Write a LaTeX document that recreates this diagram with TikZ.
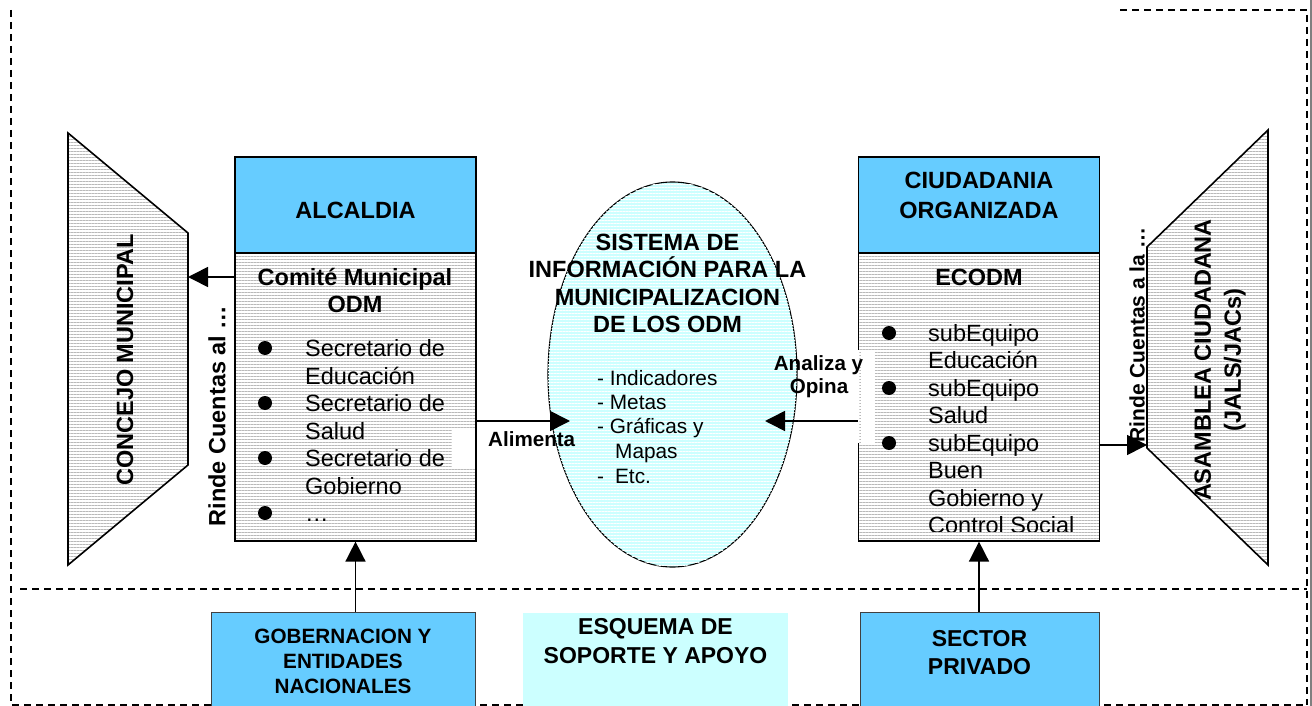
\documentclass[tikz,border=0pt]{standalone}
\usepackage{fontspec}
\setmainfont{Liberation Sans}
\usetikzlibrary{arrows.meta,patterns.meta,shapes.geometric}
\definecolor{hdrblue}{HTML}{66CCFF}
\definecolor{lcyan}{HTML}{CCFFFF}
\newcommand\fsz[2]{\fontsize{#1}{#2}\selectfont}
\begin{document}
\begin{tikzpicture}[x=1pt,y=-1pt,
  hatch/.style={pattern={Lines[angle=0,distance=3pt,line width=0.9pt]},pattern color=gray!55},
  bigbox/.style={draw=black,line width=1.2pt,hatch,rectangle,minimum width=241pt,minimum height=384pt,inner sep=0pt},
  hdr/.style={draw=black,line width=1.2pt,fill=hdrblue,rectangle,minimum width=241pt,minimum height=96pt,inner sep=0pt},
  lowbox/.style={draw=black!75,line width=1pt,fill=hdrblue,rectangle,minimum height=110pt,inner sep=0pt},
  bt/.style={font=\fsz{23.5}{27.5}\bfseries,inner sep=0pt},
  rt/.style={font=\fsz{23.5}{27.5},inner sep=0pt,anchor=base west},
  lt/.style={font=\fsz{20.8}{24.5},inner sep=0pt,anchor=base west},
  lab/.style={font=\fsz{20.6}{23}\bfseries,inner sep=0pt},
  lowt/.style={font=\fsz{20.7}{25}\bfseries,inner sep=0pt,anchor=base},
  bul/.style={circle,fill=black,minimum size=14pt,inner sep=0pt},
  arr/.style={line width=1.6pt,-{Triangle[length=20pt,width=20pt]}},
  frm/.style={line width=1.5pt,dash pattern=on 7pt off 5pt}]
\useasboundingbox (0,0) rectangle (1312,706);
\clip (0,0) rectangle (1312,706);

% frame
\draw[frm] (11,10) -- (11,705) -- (1307,705);
\draw[frm,line width=2.2pt] (1120,10) -- (1307,10) -- (1307,705);
\draw[gray,line width=2pt] (1311,0) -- (1311,706);
\draw[frm] (20,589) -- (1307,589);

% trapezoids
\draw[hatch,line width=1.6pt] (68,133) -- (188,233) -- (188,465) -- (68,565) -- cycle;
\coordinate (cjR) at (188,277);
\draw[hatch,line width=1.6pt] (1268,130) -- (1147,247) -- (1147,448) -- (1268,565) -- cycle;
\coordinate (asL) at (1147,445);

% main boxes
\node[bigbox] (alc) at (355.5,349) {};
\node[hdr] (alch) at (355.5,205) {};
\node[bigbox] (ciu) at (979,349) {};
\node[hdr] (ciuh) at (979,205) {};

% white label backgrounds
\fill[white] (452,428) rectangle (475.3,468);
\fill[white] (476.7,428) rectangle (560,468);
\fill[white] (770,350) rectangle (859.3,443);
\fill[white] (860.7,350) rectangle (875,443);

% ellipse
\node[draw=black,line width=1.1pt,ellipse,minimum width=249pt,minimum height=385pt,inner sep=0pt,
  fill=lcyan,postaction={pattern={Lines[angle=0,distance=3pt,line width=0.8pt]},pattern color=white}] (sis) at (672.5,374.5) {};

% bottom boxes
\node[lowbox,minimum width=264pt] (gob) at (343,667) {};
\node[fill=lcyan,rectangle,minimum width=265pt,minimum height=110pt,inner sep=0pt] (esq) at (655.5,668) {};
\node[lowbox,minimum width=239pt] (sec) at (979.5,667) {};

% connectors
\coordinate (alimTip) at (570,421);
\coordinate (analTip) at (765,421);
\draw[arr] (alc.west |- cjR) -- (cjR);
\draw[arr] (alc.east |- alimTip) -- (alimTip);
\draw[arr] (ciu.west |- analTip) -- (analTip);
\draw[arr] (ciu.east |- asL) -- (asL);
\draw[arr] (alc.south |- gob.north) -- (alc.south);
\draw[arr] (ciu.south |- sec.north) -- (ciu.south);

% Alcaldia text
\node[bt,anchor=base] (alcT) at (355.5,218) {ALCALDIA};
\node[bt,anchor=base] (alcS1) at (355,285) {Comité Municipal};
\node[bt,anchor=base] (alcS2) at (355,312) {ODM};
\node[bul] (ab1) at (265,348) {};
\node[bul] (ab2) at (265,403) {};
\node[bul] (ab3) at (265,458) {};
\node[bul] (ab4) at (265,513) {};
\node[rt] (al1) at (305,356.5) {Secretario de};
\node[rt] (al2) at (305,384) {Educación};
\node[rt] (al3) at (305,411.5) {Secretario de};
\node[rt] (al4) at (305,439) {Salud};
\node[rt] (al5) at (305,466.5) {Secretario de};
\node[rt] (al6) at (305,494) {Gobierno};
\node[rt] (al7) at (305,521.5) {…};

% Ciudadania text
\node[bt,anchor=base] (ciuT1) at (979,189) {CIUDADANIA};
\node[bt,anchor=base] (ciuT2) at (979,218) {ORGANIZADA};
\node[bt,anchor=base] (ciuS) at (979,285) {ECODM};
\node[bul] (cb1) at (889,333) {};
\node[bul] (cb2) at (889,388) {};
\node[bul] (cb3) at (889,443) {};
\node[rt] (cl1) at (928,341) {subEquipo};
\node[rt] (cl2) at (928,368.5) {Educación};
\node[rt] (cl3) at (928,396) {subEquipo};
\node[rt] (cl4) at (928,423.5) {Salud};
\node[rt] (cl5) at (928,451) {subEquipo};
\node[rt] (cl6) at (928,478.5) {Buen};
\node[rt] (cl7) at (928,506) {Gobierno y};
\begin{scope}
\clip (900,510) rectangle (1098,531);
\node[rt] (cl8) at (928,533.5) {Control Social};
\end{scope}

% Ellipse text
\node[bt,anchor=base] (s1) at (667.5,250.7) {SISTEMA DE};
\node[bt,anchor=base] (s2) at (667.5,277.7) {INFORMACIÓN PARA LA};
\node[bt,anchor=base] (s3) at (667.5,305) {MUNICIPALIZACION};
\node[bt,anchor=base] (s4) at (667.5,332.7) {DE LOS ODM};
\node[lt] (sl1) at (597,385) {- Indicadores};
\node[lt] (sl2) at (597,409) {- Metas};
\node[lt] (sl3) at (597,433) {- Gráficas y};
\node[lt] (sl4) at (615,458) {Mapas};
\node[lt] (sl5) at (597,483) {-\hspace{11pt}Etc.};

% connector labels
\node[lab,anchor=base west] (alim) at (488,446.7) {Alimenta};
\node[lab,anchor=base] (anal1) at (818.5,370.7) {Analiza y};
\node[lab,anchor=base] (anal2) at (819,393) {Opina};
\node[bt,rotate=90] (rc1) at (217,416) {Rinde Cuentas al …};
\node[lab,font=\fsz{21}{24}\bfseries,rotate=90] (rc2) at (1137,335) {Rinde Cuentas a la …};

% trapezoid texts
\node[bt,rotate=90] (cm) at (125,360) {CONCEJO MUNICIPAL};
\node[bt,font=\fsz{23.5}{30}\bfseries,rotate=90,align=center] (asb) at (1220,360) {ASAMBLEA CIUDADANA\\(JALS/JACs)};

% bottom texts
\node[lowt] (g1) at (343,643) {GOBERNACION Y};
\node[lowt] (g2) at (343,668) {ENTIDADES};
\node[lowt] (g3) at (343,693) {NACIONALES};
\node[lowt,font=\fsz{23}{29}\bfseries] (e1) at (655.5,634) {ESQUEMA DE};
\node[lowt,font=\fsz{23}{29}\bfseries] (e2) at (655.5,663) {SOPORTE Y APOYO};
\node[lowt,font=\fsz{23}{28}\bfseries] (p1) at (979.5,646) {SECTOR};
\node[lowt,font=\fsz{23}{28}\bfseries] (p2) at (979.5,674) {PRIVADO};
\end{tikzpicture}
\end{document}
